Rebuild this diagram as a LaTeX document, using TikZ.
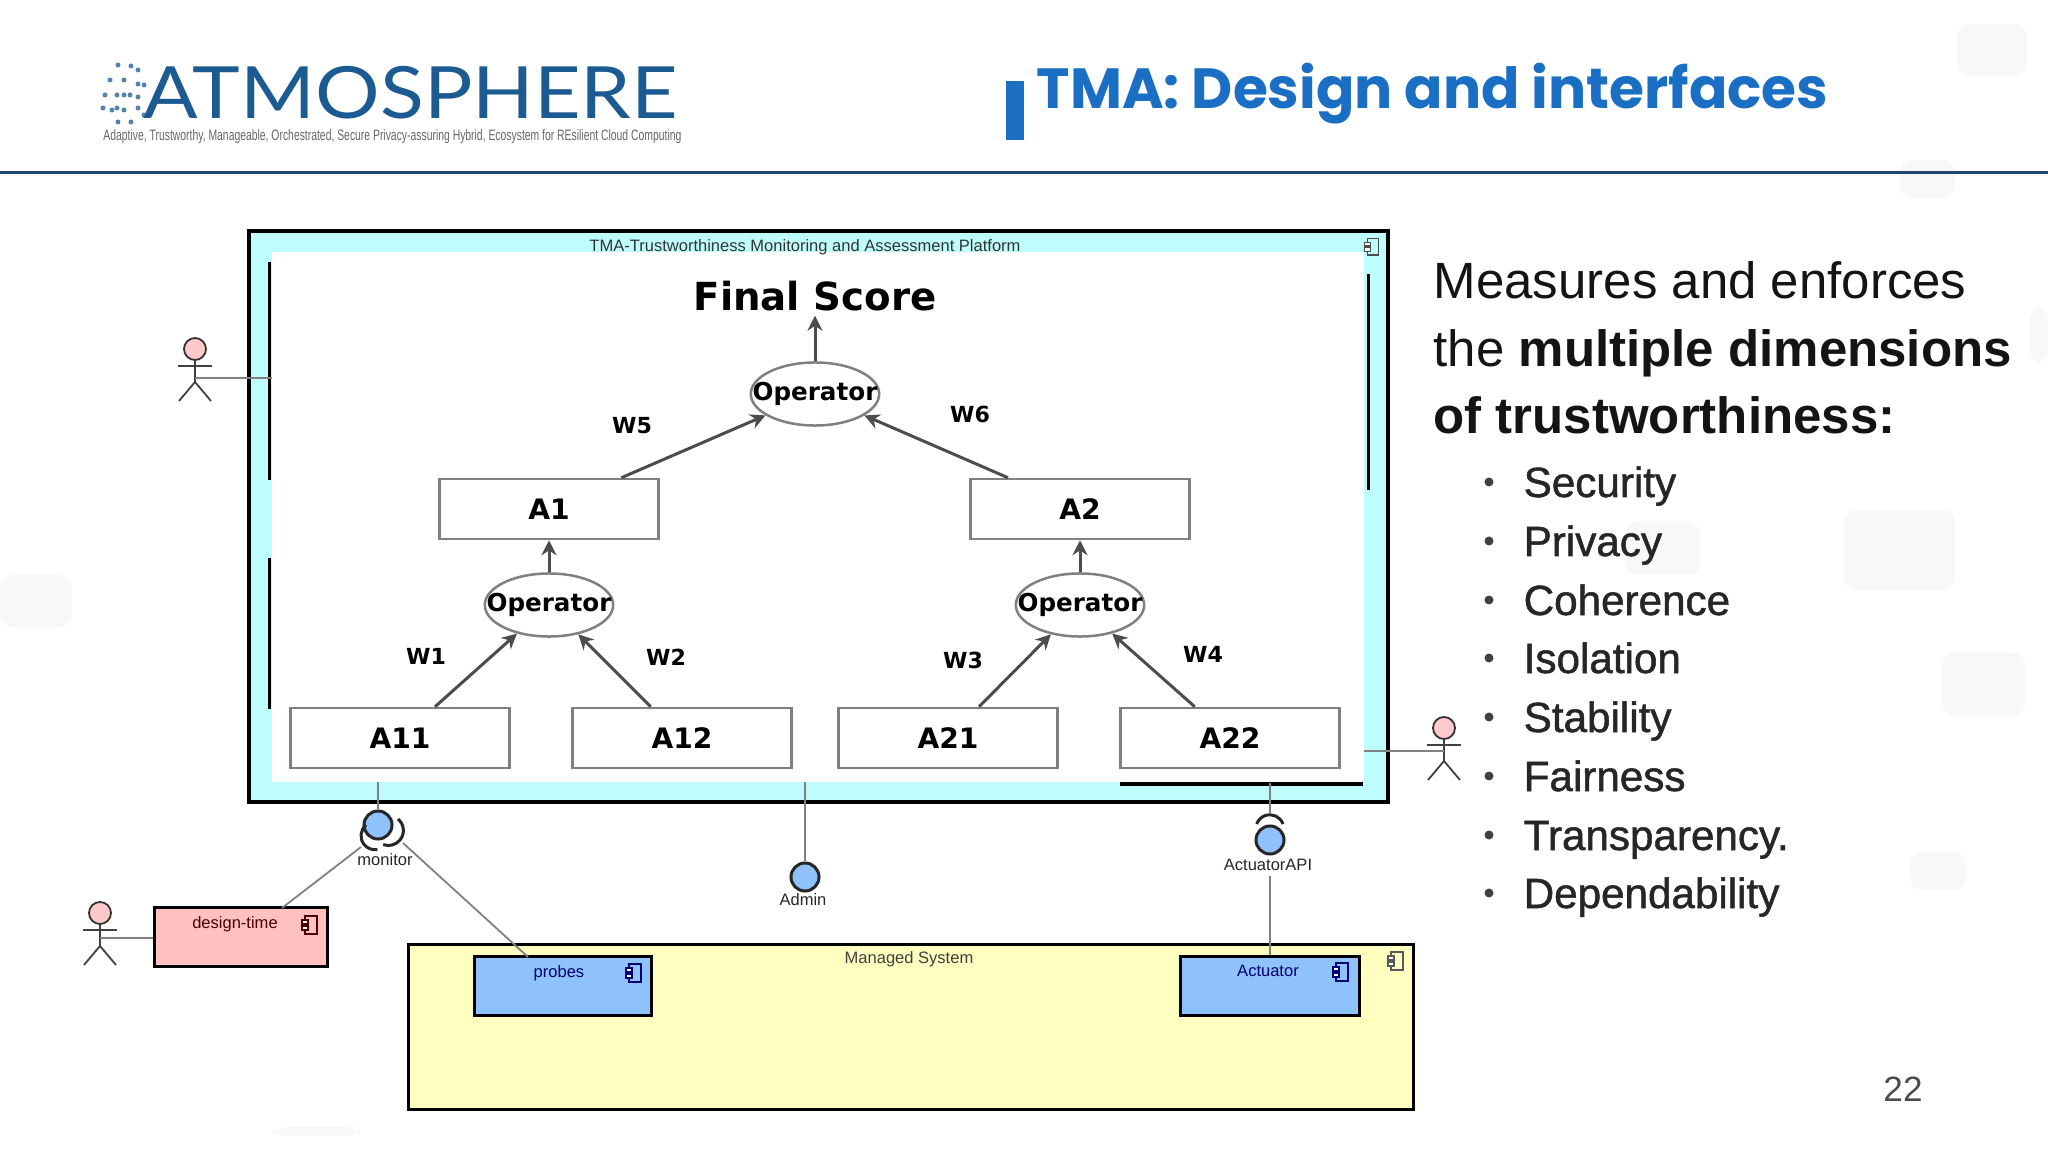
\documentclass[tikz,border=0pt]{standalone}
\usepackage{fontspec}
\usepackage{tikz}
\usetikzlibrary{arrows.meta, calc, shapes.geometric}
\setmainfont{Liberation Sans}
\newfontfamily\titlefont{Poppins}
\newfontfamily\logofont{Lato}
\newfontfamily\treefont{DejaVu Sans}
\newfontfamily\listfont[FakeBold=1.2]{Liberation Sans}
\definecolor{tmacol}{HTML}{BFFDFD}
\definecolor{pinkcol}{HTML}{FFC0C0}
\definecolor{yellowcol}{HTML}{FFFFC0}
\definecolor{bluecol}{HTML}{8FC1FA}
\definecolor{titlecol}{HTML}{1A6FC4}
\definecolor{rulecol}{HTML}{1F4573}
\definecolor{logocol}{HTML}{1C5A92}
\definecolor{gcol}{HTML}{808080}
\definecolor{blobcol}{HTML}{F8F8F8}
\tikzset{
  treebox/.style={draw=gcol, line width=0.025cm, fill=white, minimum width=2.19cm, minimum height=0.6cm, inner sep=0pt, font=\treefont\bfseries\fontsize{8}{9}\selectfont},
  opnode/.style={draw=gcol, line width=0.025cm, fill=white, ellipse, minimum width=1.28cm, minimum height=0.63cm, inner xsep=-0.17cm, inner ysep=0pt, font=\treefont\bfseries\fontsize{7}{8}\selectfont},
  wlabel/.style={font=\treefont\bfseries\fontsize{6.3}{7}\selectfont},
  arw/.style={->, >={Stealth[length=1.5mm, width=1.5mm]}, draw=black!70, line width=0.03cm},
  conn/.style={draw=gcol, line width=0.018cm},
  iface/.style={circle, draw=black!85, line width=0.03cm, fill=bluecol, minimum size=0.28cm, inner sep=0pt},
  socket/.style={draw=black!85, line width=0.03cm},
  smalltxt/.style={inner sep=0pt, font=\fontsize{4.7}{5}\selectfont},
  compbox/.style={draw=black, line width=0.03cm, minimum height=0.58cm, inner sep=0pt},
  blob/.style={fill=blobcol, rounded corners=0.12cm},
  bulletitem/.style={anchor=base west, inner sep=0pt, font=\listfont\fontsize{12}{14}\selectfont, text=black!85},
  compicon/.pic={
    \draw[line width=0.012cm] (-5,-9) rectangle (7,9);
    \draw[line width=0.012cm, fill=white] (-8,-5) rectangle (-2,-1);
    \draw[line width=0.012cm, fill=white] (-8,1) rectangle (-2,5);
  },
}
\newcommand{\stickman}[3]{%
  \node[circle, draw=black!80, line width=0.018cm, fill=pinkcol!85, minimum size=0.22cm, inner sep=0pt] (#3) at (#1,#2) {};
  \draw[black!75, line width=0.025cm] (#1-17,#2+17) -- (#1+17,#2+17);
  \draw[black!75, line width=0.018cm] (#3.south) -- (#1,#2+33) -- (#1-16,#2+52);
  \draw[black!75, line width=0.018cm] (#1,#2+33) -- (#1+16,#2+52);
}
\begin{document}
\begin{tikzpicture}[x=0.01cm, y=-0.01cm]
\useasboundingbox (0,0) rectangle (2048,1152);

\fill[blob] (1957,24) rectangle (2027,76);
\fill[blob] (1900,160) rectangle (1955,198);
\fill[blob] (2030,307) rectangle (2048,363);
\fill[blob] (1844,510) rectangle (1955,590);
\fill[blob] (1625,522) rectangle (1700,575);
\fill[blob] (1942,653) rectangle (2025,715);
\fill[blob] (1910,852) rectangle (1966,890);
\fill[blob] (0,575) rectangle (72,627);
\fill[blob] (274,1127) rectangle (360,1136);

% header
\foreach \dx/\dy in {118/65, 124/80, 110/80, 130/95, 117/95, 105/95, 138/70, 144/85, 138/108, 124/110, 112/110, 131/122, 118/122, 144/115, 103/108, 131/66, 138/84, 124/95, 138/97, 117/108}
  \fill[logocol!75] (\dx,\dy) circle (2.5);
\node[inner sep=0pt, anchor=west, text=logocol, xscale=1.12] (logo) at (143,93) {\logofont\fontsize{20.5}{21}\selectfont ATMOSPHERE};
\node[inner sep=0pt, anchor=west, text=black!60, xscale=0.687] (logosub) at (103,137) {\fontsize{4.3}{5}\selectfont Adaptive, Trustworthy, Manageable, Orchestrated, Secure Privacy-assuring Hybrid, Ecosystem for REsilient Cloud Computing};
\fill[titlecol] (1006,81) rectangle (1024,140);
\node[inner sep=0pt, anchor=west, text=titlecol] (title) at (1036,94) {\titlefont\bfseries\fontsize{16.1}{18}\selectfont TMA: Design and interfaces};
\draw[rulecol, line width=0.03cm] (0,173) -- (2048,173);

% TMA platform
\draw[fill=tmacol, line width=0.045cm] (249,231) rectangle (1388,802);
\fill[white] (272,252) rectangle (1364,782);
\draw[black, line width=0.03cm] (269,262) -- (269,480);
\draw[black, line width=0.03cm] (269,558) -- (269,709);
\draw[black, line width=0.03cm] (1368,274) -- (1368,490);
\draw[black, line width=0.035cm] (1120,784) -- (1363,784);
\node[smalltxt, text=black!80] (tmatitle) at (805,247) {TMA-Trustworthiness Monitoring and Assessment Platform};
\pic[black!70, scale=0.9] at (1372,247) {compicon};

% score tree
\node[font=\treefont\bfseries\fontsize{11}{13}\selectfont, inner sep=0pt] (score) at (815,296) {Final Score};
\node[opnode] (optop) at (815,394) {Operator};
\node[opnode] (opleft) at (549,605) {Operator};
\node[opnode] (opright) at (1080,605) {Operator};
\node[treebox] (a1) at (549,509) {A1};
\node[treebox] (a2) at (1080,509) {A2};
\node[treebox] (a11) at (400,738) {A11};
\node[treebox] (a12) at (682,738) {A12};
\node[treebox] (a21) at (948,738) {A21};
\node[treebox] (a22) at (1230,738) {A22};
\draw[arw] (optop) -- ($(score.south)+(0,4)$);
\draw[arw] (a1) -- (optop);
\draw[arw] (a2) -- (optop);
\draw[arw] (opleft) -- (a1);
\draw[arw] (opright) -- (a2);
\draw[arw] (a11) -- (opleft);
\draw[arw] (a12) -- (opleft);
\draw[arw] (a21) -- (opright);
\draw[arw] (a22) -- (opright);
\node[wlabel] (w5) at (632,426) {W5};
\node[wlabel] (w6) at (970,414) {W6};
\node[wlabel] (w1) at (426,656) {W1};
\node[wlabel] (w2) at (666,657) {W2};
\node[wlabel] (w3) at (963,660) {W3};
\node[wlabel] (w4) at (1203,654) {W4};

% managed system
\node[compbox, fill=yellowcol, minimum width=10.05cm, minimum height=1.65cm] (managed) at (911,1027) {};
\node[smalltxt, text=black!75] (managedtxt) at (909,959) {Managed System};
\pic[black!65] at (1396,961) {compicon};
\node[compbox, fill=bluecol, minimum width=1.76cm] (probes) at (563,986) {};
\node[smalltxt, text=blue!45!black] (probestxt) at (559,973) {probes};
\pic[blue!45!black] at (634,973) {compicon};
\node[compbox, fill=bluecol, minimum width=1.78cm] (actuator) at (1270,986) {};
\node[smalltxt, text=blue!45!black] (actuatortxt) at (1268,971) {Actuator};
\pic[blue!45!black] at (1341,972) {compicon};
\node[compbox, fill=pinkcol, minimum width=1.72cm] (design) at (241,937) {};
\node[smalltxt, text=red!30!black] (designtxt) at (235,924) {design-time};
\pic[red!30!black] at (310,925) {compicon};

% interfaces
\coordinate (montop) at (378,782);
\coordinate (admtop) at (805,782);
\coordinate (acttop) at (1270,783);
\coordinate (actlow) at (1270,876);
\coordinate (leftout) at (361,847);
\coordinate (rightout) at (403,843);
\coordinate (probein) at (528,957);
\coordinate (designin) at (282,908);
\node[iface] (monitor) at (378,825) {};
\node[iface] (admin) at (805,877) {};
\node[iface] (actapi) at (1270,840) {};
\node[smalltxt, text=black!85] (monitortxt) at (385,860) {monitor};
\node[smalltxt, text=black!85] (admintxt) at (803,900) {Admin};
\node[smalltxt, text=black!85] (actapitxt) at (1268,865) {ActuatorAPI};
\draw[socket] (366,825) arc[start angle=130, end angle=280, radius=0.14cm];
\draw[socket] (398,819) arc[start angle=50, end angle=-110, radius=0.15cm];
\draw[socket] (1283,824) arc[start angle=20, end angle=160, radius=0.14cm];
\draw[conn] (montop) -- (monitor);
\draw[conn] (admtop) -- (admin);
\draw[conn] (acttop) -- (1270,814);
\draw[conn] (actlow) -- (actuator.north);
\draw[conn] (leftout) -- (designin);
\draw[conn] (rightout) -- (probein);

% actors
\stickman{195}{349}{actortop}
\stickman{1444}{728}{actorright}
\stickman{100}{913}{actorleft}
\coordinate (topedge) at (272,378);
\coordinate (rightedge) at (1364,751);
\draw[conn] (195,378) -- (topedge);
\draw[conn] (rightedge) -- (1444,751);
\draw[conn] (100,938) -- (design.west |- 100,938);

% text column
\node[inner sep=0pt, anchor=west, align=left, text=black!92, font=\fontsize{14.5}{19.2}\selectfont] (lead) at (1433,348) {Measures and enforces\\the \textbf{multiple dimensions}\\\textbf{of trustworthiness:}};
\foreach \yy/\word in {482/Security, 541/Privacy, 600/Coherence, 658/Isolation, 717/Stability, 776/Fairness, 835/Transparency., 893/Dependability} {
  \fill[black!75] (1489,\yy) circle (4.5);
  \node[bulletitem] at (1523,\yy+15) {\word};
}
\node[inner sep=0pt, text=black!70, font=\fontsize{10}{12}\selectfont] (pagenum) at (1903,1089) {22};

\end{tikzpicture}
\end{document}
